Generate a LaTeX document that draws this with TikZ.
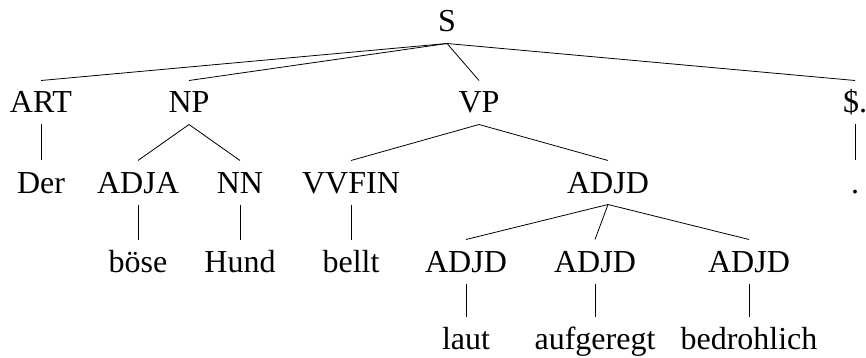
\documentclass[tikz,border=0pt]{standalone}
\usepackage{fontspec}
\setmainfont{Liberation Serif}
\begin{document}
\begin{tikzpicture}[x=1pt,y=-1pt,
  lab/.style={anchor=base,inner sep=0pt,outer sep=0pt,text height=21pt,text depth=0pt,
    minimum height=0pt,inner ysep=11.5pt,font=\fontsize{32}{38}\selectfont},
  edge/.style={draw=black,line width=0.8pt}]
\useasboundingbox (0,0) rectangle (866,358);
% row 0
\node[lab] (S) at (447,32) {S};
% row 1
\node[lab] (ART) at (41,113) {ART};
\node[lab] (NP) at (189,113) {NP};
\node[lab] (VP) at (479,113) {VP};
\node[lab] (PUN) at (855,113) {\$.};
% row 2
\node[lab] (Der) at (41,193) {Der};
\node[lab] (ADJA) at (138,193) {ADJA};
\node[lab] (NN) at (240,193) {NN};
\node[lab] (VVFIN) at (351,193) {VVFIN};
\node[lab] (ADJD) at (608,193) {ADJD};
\node[lab] (dot) at (855,193) {.};
% row 3
\node[lab] (boese) at (138,272) {böse};
\node[lab] (Hund) at (240,272) {Hund};
\node[lab] (bellt) at (351,272) {bellt};
\node[lab] (ADJDa) at (466,272) {ADJD};
\node[lab] (ADJDb) at (595,272) {ADJD};
\node[lab] (ADJDc) at (749,272) {ADJD};
% row 4
\node[lab] (laut) at (466,349) {laut};
\node[lab] (aufgeregt) at (595,349) {aufgeregt};
\node[lab] (bedrohlich) at (749,349) {bedrohlich};
% edges
\draw[edge] (S.south) -- (ART.north);
\draw[edge] (S.south) -- (NP.north);
\draw[edge] (S.south) -- (VP.north);
\draw[edge] (S.south) -- (PUN.north);
\draw[edge] (ART.south) -- (Der.north);
\draw[edge] (NP.south) -- (ADJA.north);
\draw[edge] (NP.south) -- (NN.north);
\draw[edge] (VP.south) -- (VVFIN.north);
\draw[edge] (VP.south) -- (ADJD.north);
\draw[edge] (PUN.south) -- (dot.north);
\draw[edge] (ADJA.south) -- (boese.north);
\draw[edge] (NN.south) -- (Hund.north);
\draw[edge] (VVFIN.south) -- (bellt.north);
\draw[edge] (ADJD.south) -- (ADJDa.north);
\draw[edge] (ADJD.south) -- (ADJDb.north);
\draw[edge] (ADJD.south) -- (ADJDc.north);
\draw[edge] (ADJDa.south) -- (laut.north);
\draw[edge] (ADJDb.south) -- (aufgeregt.north);
\draw[edge] (ADJDc.south) -- (bedrohlich.north);
\end{tikzpicture}
\end{document}
